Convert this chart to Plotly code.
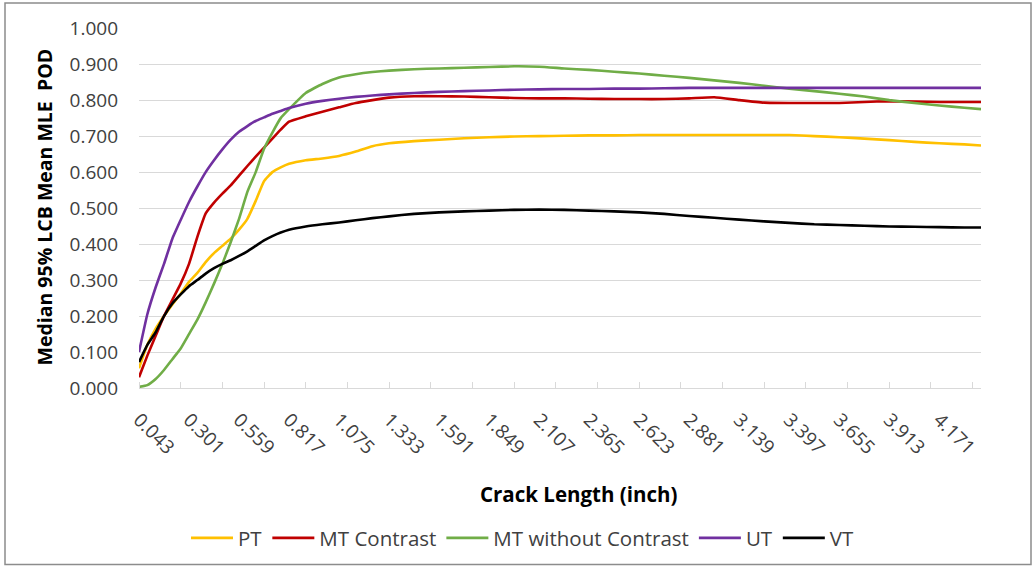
import plotly.graph_objects as go

# Crack length (inch) sample positions
crack = [0.043, 0.086, 0.129, 0.172, 0.215, 0.258, 0.301, 0.344, 0.387, 0.430,
         0.473, 0.516, 0.559, 0.602, 0.645, 0.688, 0.731, 0.774, 0.817, 0.903,
         0.989, 1.075, 1.161, 1.247, 1.333, 1.462, 1.591, 1.720, 1.849, 1.978,
         2.107, 2.236, 2.365, 2.494, 2.623, 2.752, 2.881, 3.010, 3.139, 3.268,
         3.397, 3.526, 3.655, 3.784, 3.913, 4.042, 4.171, 4.300, 4.386]

pt = [0.055, 0.120, 0.165, 0.200, 0.232, 0.262, 0.295, 0.320, 0.350, 0.375,
      0.395, 0.415, 0.440, 0.470, 0.520, 0.575, 0.600, 0.613, 0.623, 0.633,
      0.638, 0.645, 0.657, 0.672, 0.680, 0.686, 0.690, 0.694, 0.697, 0.699,
      0.700, 0.701, 0.702, 0.702, 0.703, 0.703, 0.703, 0.703, 0.703, 0.703,
      0.703, 0.700, 0.697, 0.693, 0.689, 0.684, 0.680, 0.677, 0.674]

mt_contrast = [0.030, 0.090, 0.145, 0.200, 0.245, 0.290, 0.345, 0.420, 0.485, 0.515,
               0.540, 0.563, 0.590, 0.617, 0.643, 0.668, 0.693, 0.718, 0.740, 0.755,
               0.768, 0.780, 0.792, 0.800, 0.807, 0.811, 0.811, 0.810, 0.808, 0.806,
               0.805, 0.805, 0.804, 0.803, 0.803, 0.803, 0.805, 0.808, 0.800, 0.793,
               0.792, 0.792, 0.792, 0.795, 0.797, 0.796, 0.795, 0.795, 0.795]

mt_without = [0.003, 0.008, 0.025, 0.050, 0.080, 0.110, 0.150, 0.190, 0.238, 0.290,
              0.345, 0.405, 0.470, 0.545, 0.600, 0.665, 0.710, 0.750, 0.775, 0.820,
              0.845, 0.863, 0.872, 0.878, 0.882, 0.886, 0.888, 0.890, 0.892, 0.894,
              0.893, 0.888, 0.884, 0.879, 0.874, 0.868, 0.862, 0.855, 0.848, 0.840,
              0.832, 0.825, 0.818, 0.810, 0.800, 0.792, 0.785, 0.779, 0.775]

ut = [0.100, 0.205, 0.280, 0.345, 0.415, 0.467, 0.517, 0.560, 0.600, 0.633,
      0.663, 0.690, 0.712, 0.728, 0.742, 0.752, 0.762, 0.770, 0.778, 0.790,
      0.798, 0.804, 0.809, 0.813, 0.816, 0.820, 0.823, 0.825, 0.827, 0.829,
      0.830, 0.831, 0.831, 0.832, 0.832, 0.833, 0.834, 0.834, 0.834, 0.834,
      0.834, 0.834, 0.834, 0.834, 0.834, 0.834, 0.834, 0.834, 0.834]

vt = [0.072, 0.120, 0.155, 0.200, 0.235, 0.260, 0.283, 0.300, 0.318, 0.333,
      0.345, 0.355, 0.367, 0.380, 0.395, 0.410, 0.422, 0.432, 0.440, 0.449,
      0.455, 0.460, 0.466, 0.472, 0.477, 0.484, 0.488, 0.491, 0.493, 0.495,
      0.496, 0.495, 0.493, 0.491, 0.488, 0.484, 0.478, 0.473, 0.468, 0.463,
      0.459, 0.455, 0.453, 0.451, 0.449, 0.448, 0.447, 0.446, 0.446]

tick_labels = ["0.043", "0.301", "0.559", "0.817", "1.075", "1.333", "1.591", "1.849",
               "2.107", "2.365", "2.623", "2.881", "3.139", "3.397", "3.655", "3.913", "4.171"]
tick_marks = [0.043 + 0.215 * k for k in range(21)]

series = [
    ("PT", pt, "#FFC000"),
    ("MT Contrast", mt_contrast, "#C00000"),
    ("MT without Contrast", mt_without, "#70AD47"),
    ("UT", ut, "#7030A0"),
    ("VT", vt, "#000000"),
]

FONT = "Open Sans"
fig = go.Figure()
for name, ys, color in series:
    fig.add_trace(go.Scatter(x=crack, y=ys, mode="lines", name=name,
                             line=dict(color=color, width=2.6, shape="spline", smoothing=0.4)))

W, H = 1034, 569
L, R, T, B = 139, 981, 28, 389
pw, ph = R - L, B - T

def px(xp):
    return (xp - L) / pw

def py(yp):
    return (B - yp) / ph

fig.update_layout(
    width=W, height=H,
    margin=dict(l=L, r=W - R, t=T, b=H - B),
    paper_bgcolor="white", plot_bgcolor="white",
    font=dict(family=FONT, color="#595959"),
    showlegend=True,
    legend=dict(orientation="h", x=px(523), y=py(538), xanchor="center", yanchor="middle",
                font=dict(size=20.5, color="#404040", family=FONT), itemwidth=42,
                tracegroupgap=0),
    xaxis=dict(
        range=[0.043, 4.386],
        tickmode="array",
        tickvals=[float(t) for t in tick_labels],
        ticktext=tick_labels,
        tickangle=45,
        ticks="",
        showgrid=False,
        zeroline=False,
        showline=True, linecolor="#d9d9d9", linewidth=1.3,
        tickfont=dict(size=19, color="#404040", family=FONT),
        ticklabelstandoff=12,
        minor=dict(tickvals=tick_marks, ticks="inside", ticklen=6,
                   tickcolor="#d9d9d9", tickwidth=1.3, showgrid=False),
    ),
    yaxis=dict(
        range=[0, 1.0005],
        tickmode="linear", tick0=0, dtick=0.1,
        tickformat=".3f",
        ticks="",
        showgrid=True, gridcolor="#d9d9d9", gridwidth=1.3,
        zeroline=False, showline=False,
        tickfont=dict(size=19, color="#404040", family=FONT),
        ticklabelstandoff=20,
    ),
    annotations=[
        dict(text="<b>Crack Length (inch)</b>", xref="paper", yref="paper",
             x=px(578), y=py(495), xanchor="center", yanchor="middle", showarrow=False,
             font=dict(size=20.5, color="#000000", family=FONT)),
        dict(text="<b>Median 95% LCB Mean MLE  POD</b>", xref="paper", yref="paper",
             x=px(45), y=py(208), xanchor="center", yanchor="middle", showarrow=False,
             textangle=-90, font=dict(size=19.5, color="#000000", family=FONT)),
    ],
    shapes=[
        dict(type="rect", xref="paper", yref="paper",
             x0=px(5), x1=px(1031), y0=py(566), y1=py(3),
             line=dict(color="#8c8c8c", width=1.5), fillcolor="rgba(0,0,0,0)", layer="below"),
    ],
)

fig.write_html("out.html")
